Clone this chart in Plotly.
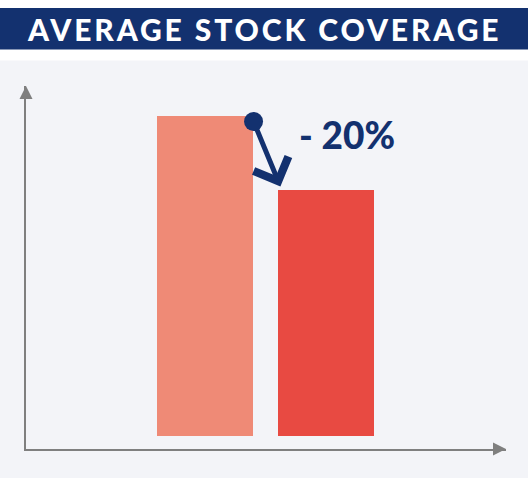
import plotly.graph_objects as go

# ---- data ----
categories = ["Before", "After"]
values = [100, 77]
change_label = "- 20%"
title_text = "AVERAGE STOCK COVERAGE"
base_offset = 4

# ---- style ----
navy = "#13316F"
bar_colors = ["#EF8A76", "#E84A42"]
bg = "#F3F4F8"
axis_color = "#7F7F7F"

W, H = 528, 478
ML, MR, MT, MB = 26, 22, 86, 29
pw, ph = W - ML - MR, H - MT - MB

x_range = [-1.479, 2.488]
y_range = [0, 113.4]
bar_width = 0.793

xs = list(range(len(categories)))

fig = go.Figure()
fig.add_trace(go.Bar(
    x=xs, y=values, base=base_offset, width=bar_width,
    marker=dict(color=bar_colors, line_width=0),
    customdata=categories, hovertemplate="%{customdata}: %{y}<extra></extra>",
    showlegend=False,
))

# axis arrowheads
fig.add_trace(go.Scatter(
    x=[x_range[0], x_range[1]], y=[y_range[1], y_range[0]],
    mode="markers",
    marker=dict(symbol=["arrow-up", "arrow-right"], size=13, color=axis_color, line_width=0),
    cliponaxis=False, hoverinfo="skip", showlegend=False,
))

# change arrow
x0 = xs[0] + bar_width / 2
y0 = base_offset + values[0] - 1.2
x1 = xs[1] - bar_width / 2 + 0.02
y1 = base_offset + values[1] + 1
fig.add_annotation(
    x=x1, y=y1, ax=x0, ay=y0, xref="x", yref="y", axref="x", ayref="y",
    text="", showarrow=True, arrowhead=4, arrowsize=1.45, arrowwidth=5,
    arrowcolor=navy, startarrowhead=6, startarrowsize=0.95, arrowside="end+start",
)
fig.add_annotation(
    x=xs[1] + 0.178, y=98.3, xref="x", yref="y", text=change_label, showarrow=False,
    font=dict(family="Lato", size=37, color=navy, weight=900),
    xanchor="center", yanchor="middle",
)

# background panels
def py(p):
    return (H - MB - p) / ph

px_l, px_r = -ML / pw, 1 + MR / pw
fig.add_shape(type="rect", xref="paper", yref="paper", x0=px_l, x1=px_r,
              y0=py(H + 2), y1=py(60.6), fillcolor=bg, line_width=0, layer="below")
fig.add_shape(type="rect", xref="paper", yref="paper", x0=px_l, x1=px_r,
              y0=py(49.5), y1=py(8), fillcolor=navy, line_width=0, layer="below")
fig.add_annotation(
    x=(px_l + px_r) / 2, y=(py(49.5) + py(8)) / 2, xref="paper", yref="paper",
    text='<span style="letter-spacing:2.9px">' + title_text + "</span>", showarrow=False,
    font=dict(family="Lato", size=30, color="white", weight=900),
    xanchor="center", yanchor="middle",
)

fig.update_layout(
    width=W, height=H,
    margin=dict(l=ML, r=MR, t=MT, b=MB),
    paper_bgcolor="white", plot_bgcolor="rgba(0,0,0,0)",
    xaxis=dict(range=x_range, showgrid=False, zeroline=False, showticklabels=False,
               ticks="", showline=True, linecolor=axis_color, linewidth=1.5, fixedrange=True),
    yaxis=dict(range=y_range, showgrid=False, zeroline=False, showticklabels=False,
               ticks="", showline=True, linecolor=axis_color, linewidth=1.5, fixedrange=True),
    bargap=0,
)

fig.write_html("out.html", config={"displayModeBar": False},
               post_script="document.body.style.margin='0';document.body.style.overflow='hidden';")
